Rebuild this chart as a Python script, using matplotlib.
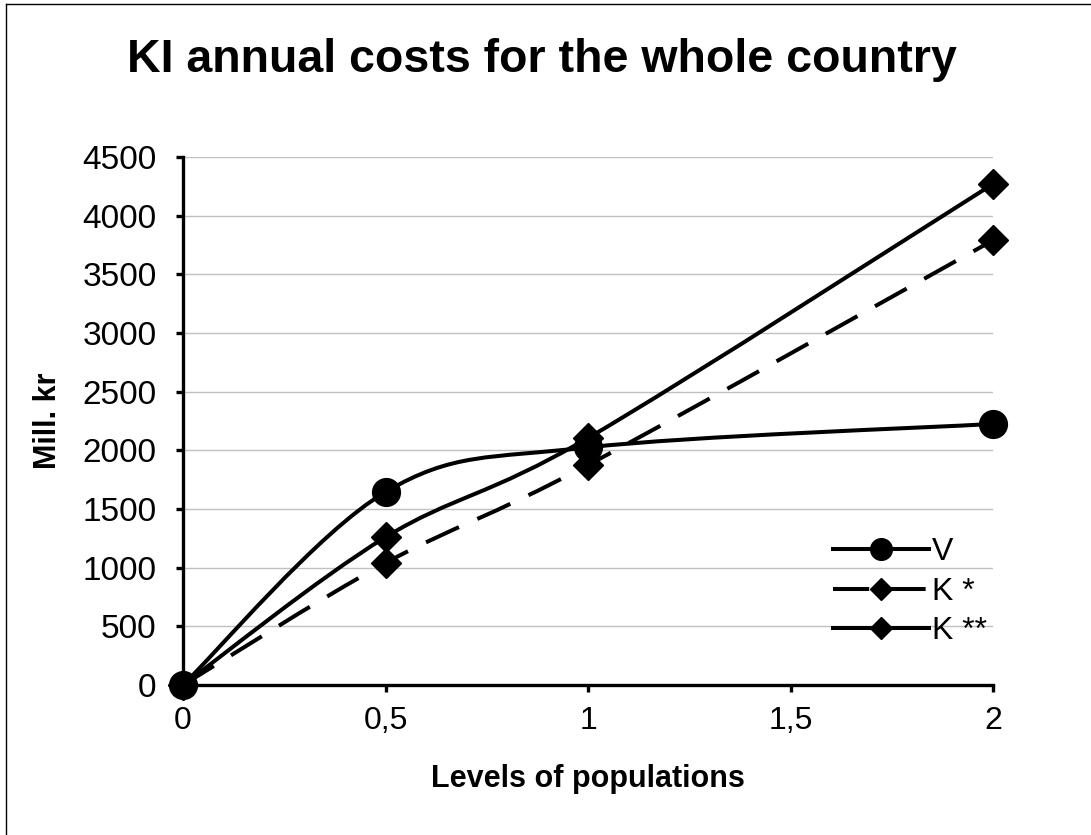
import matplotlib.pyplot as plt
from matplotlib.path import Path
from matplotlib.patches import PathPatch
from matplotlib.lines import Line2D
from matplotlib.ticker import FuncFormatter

plt.rcParams['font.family'] = ['Liberation Sans', 'DejaVu Sans']

levels = [0, 0.5, 1, 2]
v_costs = [0, 1645, 2025, 2225]
k1_costs = [0, 1040, 1875, 3790]
k2_costs = [0, 1260, 2105, 4270]


def smooth_path(xs, ys):
    # Catmull-Rom style Bezier through the points (like spreadsheet "smoothed line")
    pts = list(zip(xs, ys))
    verts = [pts[0]]
    codes = [Path.MOVETO]
    n = len(pts)
    for i in range(n - 1):
        p0 = pts[i - 1] if i > 0 else pts[i]
        p1 = pts[i]
        p2 = pts[i + 1]
        p3 = pts[i + 2] if i + 2 < n else pts[i + 1]
        c1 = (p1[0] + (p2[0] - p0[0]) / 6, p1[1] + (p2[1] - p0[1]) / 6)
        c2 = (p2[0] - (p3[0] - p1[0]) / 6, p2[1] - (p3[1] - p1[1]) / 6)
        verts += [c1, c2, p2]
        codes += [Path.CURVE4] * 3
    return Path(verts, codes)


fig = plt.figure(figsize=(10.91, 8.35), dpi=100)
ax = fig.add_axes([183 / 1091, 1 - 685 / 835, (993 - 183) / 1091, (685 - 157) / 835])

lw = 2.9
dash = (0, (9, 5))
series = [
    (v_costs, '-', 'o', 20, 'V'),
    (k1_costs, dash, 'D', 15, 'K *'),
    (k2_costs, '-', 'D', 15, 'K **'),
]
handles = []
for ys, ls, mk, ms, label in series:
    patch = PathPatch(smooth_path(levels, ys), facecolor='none', edgecolor='black',
                      lw=lw, linestyle=ls, capstyle='butt', zorder=3)
    ax.add_patch(patch)
    ax.plot(levels, ys, linestyle='none', marker=mk, ms=ms, color='black',
            mec='black', zorder=4, clip_on=False)
    handles.append(Line2D([], [], color='black', lw=lw, linestyle=ls, marker=mk,
                          ms=ms * 0.78, label=label))

ax.set_xlim(0, 2)
ax.set_ylim(0, 4500)
ax.set_xticks([0, 0.5, 1, 1.5, 2])
ax.set_yticks(range(0, 4501, 500))
ax.xaxis.set_major_formatter(FuncFormatter(lambda v, p: f'{v:g}'.replace('.', ',')))
ax.yaxis.grid(True, color='#c0c0c0', lw=1)
ax.set_axisbelow(True)
for s in ['top', 'right']:
    ax.spines[s].set_visible(False)
for s in ['left', 'bottom']:
    ax.spines[s].set_linewidth(2.4)
ax.tick_params(axis='both', direction='out', length=5, width=2.4, labelsize=23)
ax.tick_params(axis='x', pad=10)
ax.tick_params(axis='y', pad=14, labelsize=24)

ax.set_xlabel('Levels of populations', fontsize=22, fontweight='bold', labelpad=20)
ax.set_ylabel('Mill. kr', fontsize=22, fontweight='bold', labelpad=14)
fig.text(0.497, 0.928, 'KI annual costs for the whole country', ha='center', va='center',
         fontsize=33.5, fontweight='bold')

ax.legend(handles=handles, loc='lower right', bbox_to_anchor=(1.016, 0.037), frameon=False,
          fontsize=23, handlelength=3.0, handletextpad=0.1, labelspacing=0.3,
          borderaxespad=0.2)

# chart frame (left and top edges)
fig.add_artist(Line2D([6 / 1091, 6 / 1091], [0, 1 - 4 / 835], transform=fig.transFigure,
                      color='black', lw=1))
fig.add_artist(Line2D([6 / 1091, 1], [1 - 4 / 835, 1 - 4 / 835], transform=fig.transFigure,
                      color='black', lw=1))

fig.savefig('out.png', dpi=100)
